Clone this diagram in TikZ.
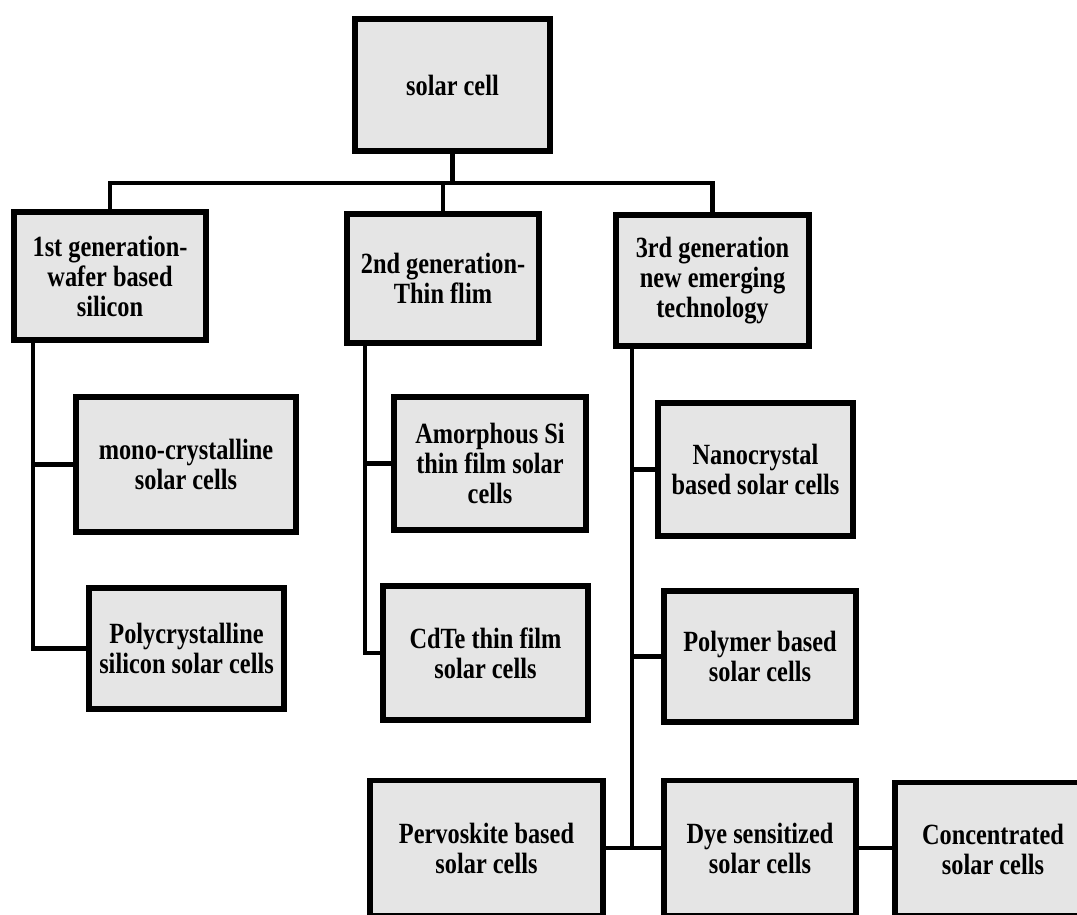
\documentclass[tikz,border=0pt]{standalone}
\usepackage{fontspec}
\setmainfont[FakeStretch=0.83]{Liberation Serif}
\usetikzlibrary{calc}

\begin{document}
\begin{tikzpicture}[
  x=0.75pt, y=-0.75pt,
  font=\bfseries\fontsize{22}{22.5}\selectfont,
  box/.style={draw=black, line width=3.8pt, fill=black!10, align=center, inner sep=0pt},
  sz/.style 2 args={minimum width=#1*0.75pt, minimum height=#2*0.75pt},
  link/.style={draw=black, line width=3.3pt}
]

\def\busy{183}
\def\tone{33}
\def\ttwo{365}
\def\tthree{632}

\useasboundingbox (0,0) rectangle (1077,914);
\clip (0,0) rectangle (1077,914);

% root and the three generations
\node[box, sz={195}{132}] (root) at (452.5,85) {solar cell};
\node[box, sz={192}{128}] (gen1) at (110,276) {1st generation-\\wafer based\\silicon};
\node[box, sz={192}{129}] (gen2) at (443,278.5) {2nd generation-\\Thin flim};
\node[box, sz={193}{131}] (gen3) at (712.5,280.5) {3rd generation\\new emerging\\technology};

% first generation
\node[box, sz={220}{135}] (mono) at (186,464.5) {mono-crystalline\\solar cells};
\node[box, sz={195}{121}] (poly) at (186.5,648.5) {Polycrystalline\\silicon solar cells};

% second generation
\node[box, sz={192}{133}] (amorph) at (490,463.5) {Amorphous Si\\thin film solar\\cells};
\node[box, sz={205}{134}] (cdte) at (485.5,653) {CdTe thin film\\solar cells};

% third generation
\node[box, sz={195}{133}] (nano) at (755.5,469.5) {Nanocrystal\\based solar cells};
\node[box, sz={192}{131}] (polymer) at (760,656.5) {Polymer based\\solar cells};
\node[box, sz={233}{135}] (perov) at (486.5,848) {Pervoskite based\\solar cells};
\node[box, sz={192}{135}] (dye) at (760,848) {Dye sensitized\\solar cells};
\node[box, sz={196}{133}] (conc) at (993,849) {Concentrated\\solar cells};

% bus under the root
\coordinate (bus) at (452.5,\busy);
\draw[link] (root.south) -- (bus);
\draw[link] (bus) -| (gen1.north);
\draw[link] (bus) -| (gen2.north);
\draw[link] (bus) -| (gen3.north);

% trunks
\coordinate (t1) at (\tone,342);
\coordinate (t2) at (\ttwo,345);
\coordinate (t3) at (\tthree,348);
\draw[link] (t1) |- (mono.west);
\draw[link] (t1) |- (poly.west);
\draw[link] (t2) |- (amorph.west);
\draw[link] (t2) |- (cdte.west);
\draw[link] (t3) |- (nano.west);
\draw[link] (t3) |- (polymer.west);
\draw[link] (t3) |- (dye.west);
\draw[link] (t3) |- (perov.east);
\draw[link] (dye.east) -- (conc.west |- dye.east);

\end{tikzpicture}
\end{document}
